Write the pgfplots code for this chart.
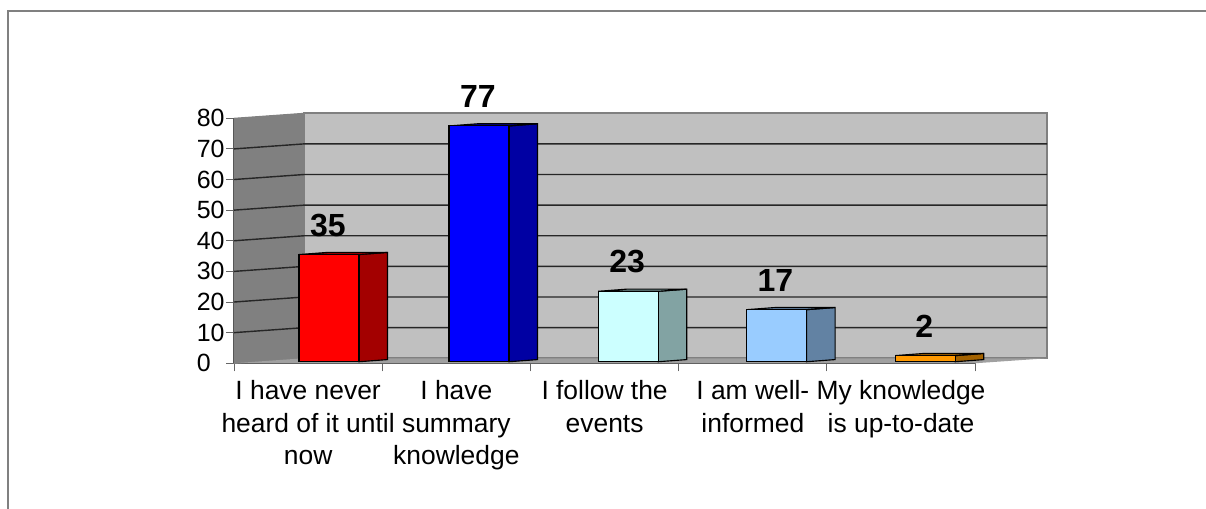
\documentclass[border=0pt]{standalone}
\usepackage{pgfplots}
\pgfplotsset{compat=1.18}
\usepackage{fontspec}
\setmainfont{Liberation Sans}
\definecolor{wall}{HTML}{C0C0C0}
\definecolor{sidewall}{HTML}{808080}
\definecolor{floorc}{HTML}{A0A0A0}
\newcommand{\barlabelfont}{\fontsize{24}{28}\selectfont\bfseries}
\pgfplotsset{frontbar/.style={ybar, bar width=45pt, bar shift=0pt, draw=black, line width=0.85pt, yshift=1.15pt,
  nodes near coords, every node near coord/.append style={font=\barlabelfont, anchor=center, xshift=-0.8pt, yshift=22pt, /pgf/number format/assume math mode=true}}}
\begin{document}
\begin{tikzpicture}
\useasboundingbox (0,0) rectangle (904.5pt,381.75pt);
\draw[sidewall,line width=1.6pt] (6pt,0) -- (6pt,373.5pt) -- (904.5pt,373.5pt);
\begin{axis}[
  at={(175.5pt,109.3pt)}, anchor=south west,
  scale only axis, width=555.9pt, height=183.75pt,
  xmin=0, xmax=5, ymin=0, ymax=80,
  clip=false,
  axis x line*=bottom, axis y line*=left,
  axis line style={-,color=black!75,line width=0.85pt},
  xtick={0,1,2,3,4,5},
  x tick label as interval,
  xticklabels={{I have never\\heard of it until\\now},{I have\\summary\\knowledge},{I follow the\\events},{I am well-\\informed},{My knowledge\\is up-to-date}},
  xticklabel style={font=\fontsize{19.8}{24.2}\selectfont, align=center, anchor=north, yshift=-3.6pt},
  ytick={0,10,20,30,40,50,60,70,80},
  yticklabel style={font=\fontsize{18.7}{22}\selectfont, /pgf/number format/assume math mode=true, anchor=east, text width=21pt, align=left, inner sep=0pt, xshift=-0.7pt},
  major tick length=6pt,
  tick style={color=black!60,line width=0.75pt},
  tick align=outside, tickpos=left,
  every axis plot/.append style={mark=none},
]
% left wall, back wall, floor
\addplot[fill=sidewall,draw=sidewall,line width=0.75pt] coordinates {(0,0)(0,80)(0.4723,81.633)(0.4723,1.633)} -- cycle;
\addplot[fill=wall,draw=sidewall,line width=1.2pt] coordinates {(0.4723,1.633)(0.4723,81.633)(5.486,81.633)(5.486,1.633)} -- cycle;
\addplot[fill=floorc,draw=none] coordinates {(0,0)(0.4723,1.633)(5.486,1.633)(5,0)} -- cycle;
% gridlines
\addplot[black!85,line width=1.05pt] coordinates {(0,10)(0.4723,11.633)(5.486,11.633)};
\addplot[black!85,line width=1.05pt] coordinates {(0,20)(0.4723,21.633)(5.486,21.633)};
\addplot[black!85,line width=1.05pt] coordinates {(0,30)(0.4723,31.633)(5.486,31.633)};
\addplot[black!85,line width=1.05pt] coordinates {(0,40)(0.4723,41.633)(5.486,41.633)};
\addplot[black!85,line width=1.05pt] coordinates {(0,50)(0.4723,51.633)(5.486,51.633)};
\addplot[black!85,line width=1.05pt] coordinates {(0,60)(0.4723,61.633)(5.486,61.633)};
\addplot[black!85,line width=1.05pt] coordinates {(0,70)(0.4723,71.633)(5.486,71.633)};
% bar 35
\addplot[fill=red!64!black,draw=black,line width=0.85pt] coordinates {(0.8434,0.5)(1.0357,1.2)(1.0357,36.2)(0.8434,35.5)} -- cycle;
\addplot[fill=red!64!black,draw=black,line width=0.85pt] coordinates {(0.4386,35.5)(0.6309,36.2)(1.0357,36.2)(0.8434,35.5)} -- cycle;
% bar 77
\addplot[fill=blue!64!black,draw=black,line width=0.85pt] coordinates {(1.8554,0.5)(2.0477,1.2)(2.0477,78.2)(1.8554,77.5)} -- cycle;
\addplot[fill=blue!64!black,draw=black,line width=0.85pt] coordinates {(1.4506,77.5)(1.6429,78.2)(2.0477,78.2)(1.8554,77.5)} -- cycle;
% bar 23
\addplot[fill={rgb,255:red,130;green,163;blue,163},draw=black,line width=0.85pt] coordinates {(2.8614,0.5)(3.0537,1.2)(3.0537,24.2)(2.8614,23.5)} -- cycle;
\addplot[fill={rgb,255:red,130;green,163;blue,163},draw=black,line width=0.85pt] coordinates {(2.4566,23.5)(2.6489,24.2)(3.0537,24.2)(2.8614,23.5)} -- cycle;
% bar 17
\addplot[fill={rgb,255:red,98;green,130;blue,163},draw=black,line width=0.85pt] coordinates {(3.8624,0.5)(4.0547,1.2)(4.0547,18.2)(3.8624,17.5)} -- cycle;
\addplot[fill={rgb,255:red,98;green,130;blue,163},draw=black,line width=0.85pt] coordinates {(3.4576,17.5)(3.6499,18.2)(4.0547,18.2)(3.8624,17.5)} -- cycle;
% bar 2
\addplot[fill={rgb,255:red,163;green,98;blue,0},draw=black,line width=0.85pt] coordinates {(4.8654,0.5)(5.0577,1.2)(5.0577,3.2)(4.8654,2.5)} -- cycle;
\addplot[fill={rgb,255:red,163;green,98;blue,0},draw=black,line width=0.85pt] coordinates {(4.4606,2.5)(4.6529,3.2)(5.0577,3.2)(4.8654,2.5)} -- cycle;
% front faces with values
\addplot[frontbar,fill={rgb,255:red,255;green,0;blue,0}] coordinates {(0.641,35)};
\addplot[frontbar,fill={rgb,255:red,0;green,0;blue,255}] coordinates {(1.653,77)};
\addplot[frontbar,fill={rgb,255:red,204;green,255;blue,255}] coordinates {(2.659,23)};
\addplot[frontbar,fill={rgb,255:red,153;green,204;blue,255}] coordinates {(3.66,17)};
\addplot[frontbar,fill={rgb,255:red,255;green,153;blue,0}] coordinates {(4.663,2)};
\end{axis}
\end{tikzpicture}
\end{document}
